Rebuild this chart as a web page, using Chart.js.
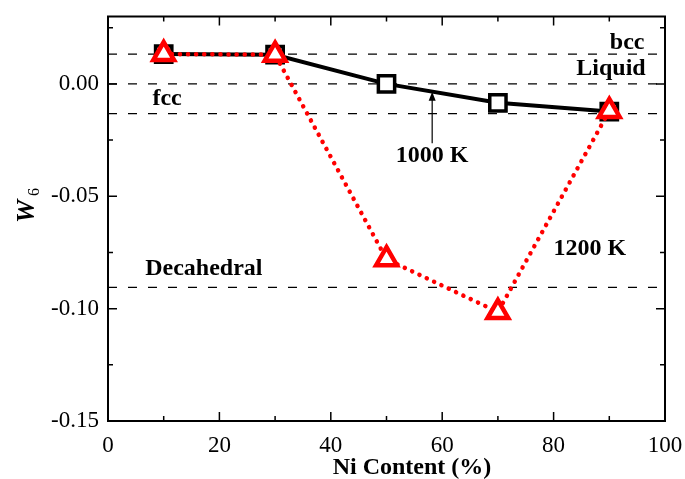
<!DOCTYPE html>
<html>
<head>
<meta charset="utf-8">
<script src="https://cdn.jsdelivr.net/npm/chart.js@4/dist/chart.umd.min.js"></script>
<style>
  html, body { margin: 0; padding: 0; background: #fff; overflow: hidden; }
  canvas { display: block; }
</style>
</head>
<body>
<canvas id="canvas" width="685" height="479"></canvas>
<script>
// Ni content (%)
var niContent = [10, 30, 50, 70, 90];
// W6 at 1000 K (squares) and 1200 K (triangles)
var w6At1000 = [0.0133, 0.0130, 0.0000, -0.0084, -0.0123];
var w6At1200 = [0.0133, 0.0130, -0.0780, -0.1015, -0.0120];
// reference W6 values of ideal structures
var refNames = ["bcc", "Liquid", "fcc", "Decahedral"];
var refValues = [0.0133, 0.0000, -0.0132, -0.0905];
var xTicks = [0, 20, 40, 60, 80, 100];
var yTicks = [-0.15, -0.10, -0.05, 0.00];

var serif = "'Liberation Serif', 'Times New Roman', serif";

function pts(xs, ys) {
  return xs.map(function(x, i) { return { x: x, y: ys[i] }; });
}

var refSets = refValues.map(function(v) {
  return {
    data: [{ x: 0, y: v }, { x: 100, y: v }],
    borderColor: "#000",
    borderWidth: 1.3,
    borderDash: [9, 11],
    pointRadius: 0,
    showLine: true,
    order: 5
  };
});

// text labels placed in data coordinates
var notes = [
  { text: "bcc", x: 93.2, y: 0.0185 },
  { text: "Liquid", x: 90.3, y: 0.0066 },
  { text: "fcc", x: 10.6, y: -0.0066 },
  { text: "1000 K", x: 58.2, y: -0.0321 },
  { text: "Decahedral", x: 17.2, y: -0.0822 },
  { text: "1200 K", x: 86.5, y: -0.0734 }
];

var framePlugin = {
  id: "frame",
  afterDatasetsDraw: function(chart) {
    var ctx = chart.ctx, a = chart.chartArea;
    var xs = chart.scales.x, ys = chart.scales.y;
    ctx.save();
    ctx.strokeStyle = "#000";
    ctx.lineWidth = 2;
    ctx.strokeRect(a.left, a.top, a.right - a.left, a.bottom - a.top);
    ctx.lineWidth = 1.5;
    ctx.beginPath();
    for (var v = 0; v <= 100; v += 10) {
      var px = xs.getPixelForValue(v);
      var len = v % 20 === 0 ? 9 : 5;
      ctx.moveTo(px, a.bottom); ctx.lineTo(px, a.bottom - len);
      ctx.moveTo(px, a.top); ctx.lineTo(px, a.top + len);
    }
    for (var k = -6; k <= 1; k++) {
      var val = k * 0.025;
      var py = ys.getPixelForValue(val);
      var l2 = k % 2 === 0 ? 9 : 5;
      ctx.moveTo(a.left, py); ctx.lineTo(a.left + l2, py);
      ctx.moveTo(a.right, py); ctx.lineTo(a.right - l2, py);
    }
    ctx.stroke();

    // arrow for 1000 K
    var ax = xs.getPixelForValue(58.2);
    var y0 = ys.getPixelForValue(-0.0264), y1 = ys.getPixelForValue(-0.0035);
    ctx.lineWidth = 1.2;
    ctx.beginPath();
    ctx.moveTo(ax, y0); ctx.lineTo(ax, y1 + 6);
    ctx.stroke();
    ctx.fillStyle = "#000";
    ctx.beginPath();
    ctx.moveTo(ax, y1); ctx.lineTo(ax - 3.5, y1 + 9); ctx.lineTo(ax + 3.5, y1 + 9);
    ctx.closePath(); ctx.fill();

    // labels
    ctx.font = "bold 24px " + serif;
    ctx.textAlign = "center";
    ctx.textBaseline = "middle";
    notes.forEach(function(n) {
      ctx.fillText(n.text, xs.getPixelForValue(n.x), ys.getPixelForValue(n.y));
    });

    // axis titles
    ctx.fillText("Ni Content (%)", 412, 468);
    ctx.save();
    ctx.translate(27, 208);
    ctx.rotate(-Math.PI / 2);
    ctx.font = "italic bold 26px " + serif;
    ctx.textAlign = "right";
    ctx.fillText("W", 8, 0);
    ctx.font = "16px " + serif;
    ctx.textAlign = "left";
    ctx.fillText("6", 12, 8);
    ctx.restore();
    ctx.restore();
  }
};

var config = {
  type: "scatter",
  data: {
    datasets: refSets.concat([
      {
        label: "1000 K",
        data: pts(niContent, w6At1000),
        showLine: true,
        borderColor: "#000",
        borderWidth: 4,
        pointStyle: "rect",
        pointRadius: 11.5,
        pointHoverRadius: 11.5,
        pointBorderWidth: 3.5,
        pointBackgroundColor: "#fff",
        pointBorderColor: "#000",
        order: 2
      },
      {
        label: "1200 K",
        data: pts(niContent, w6At1200),
        showLine: true,
        borderColor: "#ff0000",
        borderWidth: 4.5,
        borderDash: [0.1, 8],
        borderCapStyle: "round",
        pointStyle: "triangle",
        pointRadius: 12,
        pointHoverRadius: 12,
        pointBorderWidth: 4.5,
        pointBackgroundColor: "#fff",
        pointBorderColor: "#ff0000",
        order: 1
      }
    ])
  },
  plugins: [framePlugin],
  options: {
    responsive: false,
    animation: false,
    devicePixelRatio: 1,
    layout: { padding: { top: 12, right: 20, left: 0, bottom: 0 } },
    plugins: { legend: { display: false }, tooltip: { enabled: false } },
    scales: {
      x: {
        type: "linear",
        min: 0,
        max: 100,
        afterFit: function(s) { s.height = 58; s.paddingLeft = 0; s.paddingRight = 0; },
        afterBuildTicks: function(s) { s.ticks = xTicks.map(function(v) { return { value: v }; }); },
        grid: { display: false, drawTicks: false },
        border: { display: false },
        ticks: { color: "#000", padding: 11, maxRotation: 0, font: { family: serif, size: 23 } }
      },
      y: {
        type: "linear",
        min: -0.15,
        max: 0.03,
        afterFit: function(s) { s.width = 108; s.paddingTop = 0; s.paddingBottom = 0; },
        afterBuildTicks: function(s) { s.ticks = yTicks.map(function(v) { return { value: v }; }); },
        grid: { display: false, drawTicks: false },
        border: { display: false },
        ticks: {
          color: "#000",
          padding: 9,
          font: { family: serif, size: 23 },
          callback: function(v) { return v.toFixed(2); }
        }
      }
    }
  }
};

window.onload = function() {
  var ctx = document.getElementById("canvas").getContext("2d");
  window.myChart = new Chart(ctx, config);
};
</script>
</body>
</html>
